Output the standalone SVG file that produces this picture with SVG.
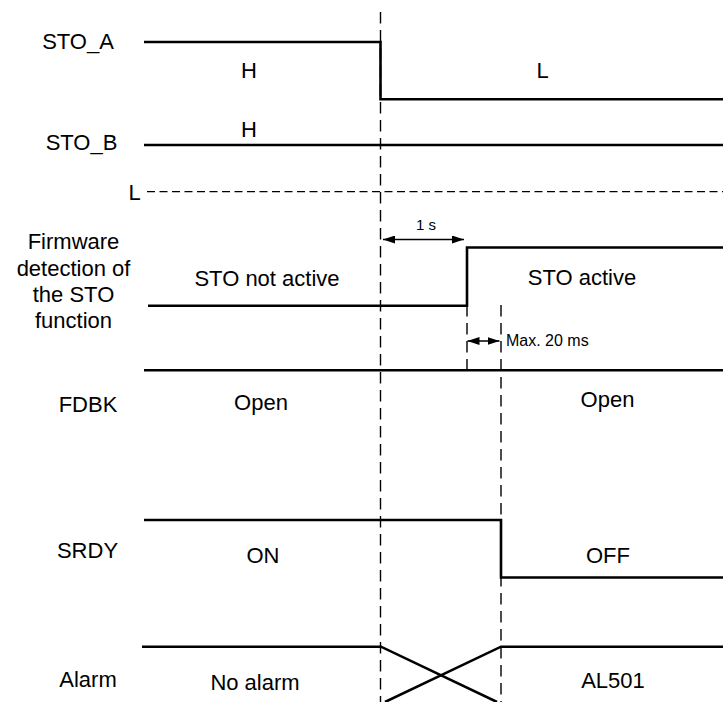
<svg xmlns="http://www.w3.org/2000/svg" width="723" height="702" viewBox="0 0 723 702">
<defs>
<style>
text{font-family:"Liberation Sans",Arial,sans-serif;fill:#000;font-size:22px}
.c{text-anchor:middle}
.sm{font-size:15px}
.ms{font-size:16px}
.sig{fill:none;stroke:#000;stroke-width:2.6;stroke-linejoin:miter}
.dv{fill:none;stroke:#000;stroke-width:1.4;stroke-dasharray:11.5 6.5}
.dh{fill:none;stroke:#000;stroke-width:1.3;stroke-dasharray:8 4.5}
.arr{fill:none;stroke:#000;stroke-width:1.6}
</style>
<marker id="ah" viewBox="0 0 12 8" refX="12" refY="4" markerWidth="12" markerHeight="8" markerUnits="userSpaceOnUse" orient="auto-start-reverse">
<path d="M0,0 L12,4 L0,8 Z" fill="#000"/>
</marker>
</defs>
<rect width="723" height="702" fill="#fff"/>

<g id="sto_a">
<text class="c" x="78" y="49">STO_A</text>
<path class="sig" d="M144,42 H380.5 V99.3 H723"/>
<text class="c" x="249" y="78">H</text>
<text class="c" x="542.5" y="78">L</text>
</g>

<g id="sto_b">
<text class="c" x="81.5" y="150">STO_B</text>
<path class="sig" d="M144,145 H723"/>
<text class="c" x="249" y="137">H</text>
<text class="c" x="134.5" y="200">L</text>
<path class="dh" d="M147,191.7 H723"/>
</g>

<g id="firmware">
<text class="c" x="73.5" y="249">Firmware</text>
<text class="c" x="73.5" y="276">detection of</text>
<text class="c" x="73.5" y="302">the STO</text>
<text class="c" x="73.5" y="328">function</text>
<path class="sig" d="M148,305.7 H467 V247.5 H723"/>
<text class="c" x="267" y="286">STO not active</text>
<text class="c" x="582" y="285">STO active</text>
</g>

<g id="fdbk">
<text class="c" x="88" y="412">FDBK</text>
<path class="sig" d="M144,370.3 H723"/>
<text class="c" x="261" y="410">Open</text>
<text class="c" x="607.5" y="407">Open</text>
</g>

<g id="srdy">
<text class="c" x="87.5" y="558">SRDY</text>
<path class="sig" d="M144,520 H501 V577.5 H723"/>
<text class="c" x="263" y="563">ON</text>
<text class="c" x="608" y="563">OFF</text>
</g>

<g id="alarm">
<text class="c" x="88" y="687">Alarm</text>
<path class="sig" d="M142,646.7 H381 L497,702"/>
<path class="sig" d="M723,646.7 H501 L385,702"/>
<text class="c" x="255" y="690">No alarm</text>
<text class="c" x="613" y="688">AL501</text>
</g>

<g id="connectors">
<path class="dv" d="M380.5,12 V702"/>
<path class="dv" d="M467,305 V370"/>
<path class="dv" d="M501,305 V702"/>
<path class="arr" d="M383,239.5 H464" marker-start="url(#ah)" marker-end="url(#ah)"/>
<path class="arr" d="M467.5,341 H499.5" marker-start="url(#ah)" marker-end="url(#ah)"/>
<text class="c sm" x="426" y="230">1 s</text>
<text class="ms" x="506" y="346">Max. 20 ms</text>
</g>
</svg>
